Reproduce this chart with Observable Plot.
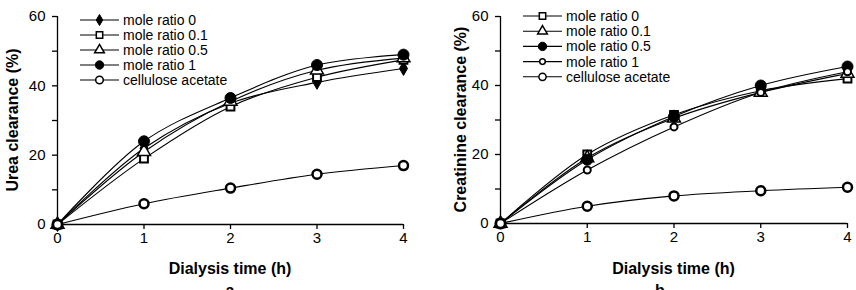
<!DOCTYPE html>
<html>
<head>
<meta charset="utf-8">
<script src="https://cdn.jsdelivr.net/npm/d3@7"></script>
<script src="https://cdn.jsdelivr.net/npm/@observablehq/plot@0.6"></script>
<style>
  html, body { margin: 0; padding: 0; background: #fff; overflow: hidden; }
  #wrap { position: relative; width: 856px; height: 290px; font-family: "Liberation Sans", Arial, sans-serif; }
  .panel { position: absolute; top: 0; }
</style>
</head>
<body>
<div id="wrap">
  <div class="panel" id="pa" style="left:0px"></div>
  <div class="panel" id="pb" style="left:430px"></div>
</div>
<script>
// ---- data ----
const hours = [0, 1, 2, 3, 4];
const yTicks = [0, 10, 20, 30, 40, 50, 60];
const yTickLabels = [0, 20, 40, 60];

const ureaSeries = ["mole ratio 0", "mole ratio 0.1", "mole ratio 0.5", "mole ratio 1", "cellulose acetate"];
const ureaMole0   = [0, 22, 35, 41, 45];
const ureaMole01  = [0, 19, 34, 42.5, 47.5];
const ureaMole05  = [0, 21, 35.5, 44.5, 48];
const ureaMole1   = [0, 24, 36.5, 46, 49];
const ureaCA      = [0, 6, 10.5, 14.5, 17];

const creaSeries = ["mole ratio 0", "mole ratio 0.1", "mole ratio 0.5", "mole ratio 1", "cellulose acetate"];
const creaMole0   = [0, 20, 31.5, 38.5, 42];
const creaMole01  = [0, 19, 30.5, 38, 43.5];
const creaMole05  = [0, 18.5, 31, 40, 45.5];
const creaMole1   = [0, 15.5, 28, 38, 44];
const creaCA      = [0, 5, 8, 9.5, 10.5];

// ---- styles ----
const ureaStyles = [
  {symbol: "diamond", fill: "#000", sw: 1, r: 4.2, lr: 3.4},
  {symbol: "square", fill: "#fff", sw: 2, r: 4.4, lr: 3.6},
  {symbol: "triangle", fill: "#fff", sw: 1.5, r: 4.8, lr: 3.6},
  {symbol: "circle", fill: "#000", sw: 1, r: 5.5, lr: 4.2},
  {symbol: "circle", fill: "#fff", sw: 2.5, r: 4.5, lr: 3.8}
];
const creaStyles = [
  {symbol: "square", fill: "#fff", sw: 2, r: 4.4, lr: 3.6},
  {symbol: "triangle", fill: "#fff", sw: 1.5, r: 4.8, lr: 3.6},
  {symbol: "circle", fill: "#000", sw: 1, r: 5.5, lr: 4.2},
  {symbol: "circle", fill: "#fff", sw: 2, r: 3.5, lr: 2.8},
  {symbol: "circle", fill: "#fff", sw: 2.5, r: 4.5, lr: 3.6}
];

function tidy(names, arrays) {
  const rows = [];
  names.forEach((name, i) => hours.forEach((h, j) => rows.push({series: name, idx: i, t: h, v: arrays[i][j]})));
  return rows;
}

const ureaData = tidy(ureaSeries, [ureaMole0, ureaMole01, ureaMole05, ureaMole1, ureaCA]);
const creaData = tidy(creaSeries, [creaMole0, creaMole01, creaMole05, creaMole1, creaCA]);

const symMap = {circle: d3.symbolCircle, square: d3.symbolSquare, triangle: d3.symbolTriangle, diamond: d3.symbolDiamond};

function panel(opts) {
  const {data, names, styles, width, ml, mr, mt, mb, ylabel, ylabelX, caption, captionX, legend} = opts;
  const marks = [
    Plot.ruleX([0], {stroke: "#000", strokeWidth: 1.3}),
    Plot.ruleY([0], {stroke: "#000", strokeWidth: 1.3}),
    Plot.axisY({ticks: yTicks, tickSize: 5, tickPadding: 7, tickFormat: d => yTickLabels.includes(d) ? String(d) : "", label: null, fontSize: 15, strokeWidth: 1.3}),
    Plot.axisX({ticks: hours, tickSize: 5, tickPadding: 3, tickFormat: d => String(d), label: null, fontSize: 15, strokeWidth: 1.3}),
    Plot.line(data, {x: "t", y: "v", z: "series", curve: "catmull-rom", stroke: "#000", strokeWidth: 1.1})
  ];
  names.forEach((name, i) => {
    const s = styles[i];
    marks.push(Plot.dot(data.filter(d => d.idx === i), {
      x: "t", y: "v", symbol: () => s.symbol, r: s.r, fill: s.fill, stroke: "#000", strokeWidth: s.sw
    }));
  });
  const chart = Plot.plot({
    width, height: 290,
    marginLeft: ml, marginRight: mr, marginTop: mt, marginBottom: mb,
    x: {domain: [0, 4]},
    y: {domain: [0, 60]},
    symbol: {type: "identity"},
    style: {fontFamily: "Liberation Sans, Arial, sans-serif", fontSize: "15px", color: "#000", overflow: "visible", background: "transparent"},
    marks
  });
  const svg = d3.select(chart);
  const fh = 290 - mt - mb;
  svg.append("text")
    .attr("transform", `translate(${ylabelX},${mt + fh / 2}) rotate(-90)`)
    .attr("text-anchor", "middle").attr("dominant-baseline", "central")
    .attr("font-weight", "bold").attr("font-size", 16).attr("fill", "#000")
    .text(ylabel);
  svg.append("text")
    .attr("x", ml + (width - ml - mr) / 2).attr("y", 268)
    .attr("text-anchor", "middle").attr("dominant-baseline", "central")
    .attr("font-weight", "bold").attr("font-size", 16).attr("fill", "#000")
    .text("Dialysis time (h)");
  svg.append("text")
    .attr("x", captionX).attr("y", 296)
    .attr("text-anchor", "middle")
    .attr("font-weight", "bold").attr("font-size", 16).attr("fill", "#000")
    .text(caption);
  // legend
  const lg = svg.append("g");
  names.forEach((name, i) => {
    const s = styles[i];
    const y = legend.y0 + i * legend.dy;
    lg.append("line").attr("x1", legend.x1).attr("x2", legend.x2).attr("y1", y).attr("y2", y)
      .attr("stroke", "#000").attr("stroke-width", 1.1);
    lg.append("path")
      .attr("transform", `translate(${(legend.x1 + legend.x2) / 2},${y})`)
      .attr("d", d3.symbol(symMap[s.symbol], Math.PI * s.lr * s.lr)())
      .attr("fill", s.fill).attr("stroke", "#000").attr("stroke-width", Math.min(s.sw, 1.5));
    lg.append("text").attr("x", legend.tx).attr("y", y)
      .attr("text-anchor", "start")
      .attr("dominant-baseline", "central").attr("font-size", 14).attr("fill", "#000")
      .text(name);
  });
  return chart;
}

document.getElementById("pa").appendChild(panel({
  data: ureaData, names: ureaSeries, styles: ureaStyles,
  width: 430, ml: 57, mr: 27, mt: 16, mb: 66,
  ylabel: "Urea clearance (%)", ylabelX: 12,
  caption: "a", captionX: 230,
  legend: {x1: 80, x2: 119, tx: 123, y0: 20, dy: 15}
}));
document.getElementById("pb").appendChild(panel({
  data: creaData, names: creaSeries, styles: creaStyles,
  width: 426, ml: 70, mr: 9, mt: 16, mb: 67,
  ylabel: "Creatinine clearance (%)", ylabelX: 30,
  caption: "b", captionX: 230,
  legend: {x1: 93, x2: 132, tx: 136, y0: 16, dy: 15.2}
}));
</script>
</body>
</html>
